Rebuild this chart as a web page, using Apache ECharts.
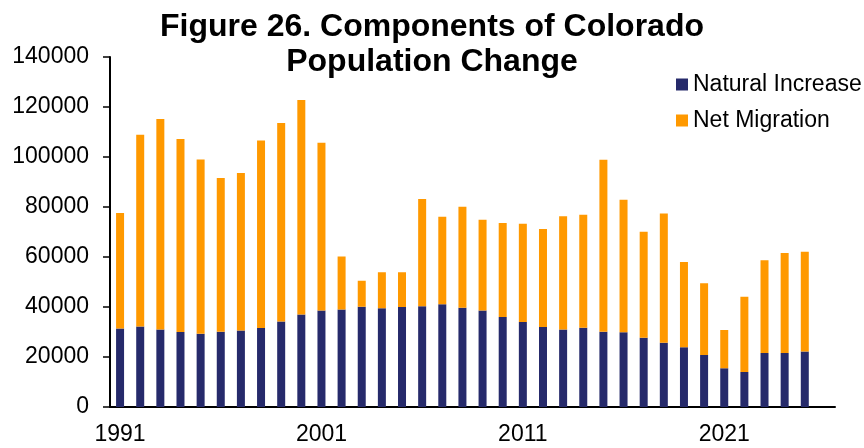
<!DOCTYPE html>
<html>
<head>
<meta charset="utf-8">
<title>Components of Colorado Population Change</title>
<script src="https://cdn.jsdelivr.net/npm/echarts@6/dist/echarts.min.js"></script>
<style>
  html, body { margin: 0; padding: 0; background: #ffffff; }
  #chart { width: 864px; height: 448px; }
</style>
</head>
<body>
<div id="chart"></div>
<script>
  // years on the category axis (2026 is an empty slot, as in the original)
  const years = ["1991", "1992", "1993", "1994", "1995", "1996", "1997", "1998", "1999", "2000",
    "2001", "2002", "2003", "2004", "2005", "2006", "2007", "2008", "2009", "2010",
    "2011", "2012", "2013", "2014", "2015", "2016", "2017", "2018", "2019", "2020",
    "2021", "2022", "2023", "2024", "2025", "2026"];

  // natural increase (births - deaths)
  const naturalIncrease = [31400, 32200, 31000, 30000, 29300, 30100, 30600, 31600, 34200, 37000,
    38600, 39000, 40100, 39500, 40000, 40300, 41100, 39700, 38600, 36000,
    34000, 32000, 31000, 31700, 30100, 29900, 27700, 25700, 23900, 20800,
    15500, 14000, 21600, 21600, 22200];

  // net migration, stacked on top
  const netMigration = [46200, 76700, 84200, 77200, 69700, 61500, 63000, 75000, 79400, 85800,
    67100, 21200, 10400, 14400, 13900, 42900, 35000, 40400, 36300, 37600,
    39300, 39200, 45300, 45200, 68800, 53000, 42400, 51700, 34100, 28700,
    15300, 30100, 37100, 40000, 39900];

  const colorArr = ["#262a6b", "#ff9900"];
  const font = "'Liberation Sans', Arial, sans-serif";

  const myChart = echarts.init(document.getElementById("chart"));
  const option = {
    animation: false,
    textStyle: { fontFamily: font },
    title: {
      text: "Figure 26. Components of Colorado\nPopulation Change",
      left: "center",
      top: 10,
      padding: 0,
      textStyle: {
        fontFamily: font,
        fontSize: 32,
        fontWeight: "bold",
        color: "#000",
        lineHeight: 35
      }
    },
    legend: {
      data: ["Natural Increase", "Net Migration"],
      orient: "vertical",
      left: 671,
      top: 68,
      itemWidth: 12,
      itemHeight: 12,
      itemGap: 13,
      icon: "rect",
      textStyle: { fontFamily: font, fontSize: 23, color: "#000" }
    },
    grid: {
      left: 110,
      right: 29,
      top: 57,
      bottom: 41,
      containLabel: false
    },
    xAxis: {
      type: "category",
      data: years,
      axisLine: { lineStyle: { color: "#000", width: 2 } },
      axisTick: { show: false },
      axisLabel: {
        interval: 9,
        margin: 16,
        fontFamily: font,
        fontSize: 23,
        color: "#000"
      }
    },
    yAxis: {
      type: "value",
      min: 0,
      max: 140000,
      interval: 20000,
      axisLine: { show: true, lineStyle: { color: "#000", width: 2 } },
      axisTick: { show: true, length: 7, lineStyle: { color: "#000", width: 1.5 } },
      axisLabel: {
        margin: 21,
        fontFamily: font,
        fontSize: 23,
        color: "#000",
        formatter: (v) => String(v)
      },
      splitLine: { show: false }
    },
    series: [{
        name: "Natural Increase",
        type: "bar",
        stack: "total",
        barWidth: 8,
        data: naturalIncrease,
        itemStyle: { color: colorArr[0] }
      },
      {
        name: "Net Migration",
        type: "bar",
        stack: "total",
        barWidth: 8,
        data: netMigration,
        itemStyle: { color: colorArr[1] }
      }
    ]
  };
  myChart.setOption(option);
</script>
</body>
</html>
